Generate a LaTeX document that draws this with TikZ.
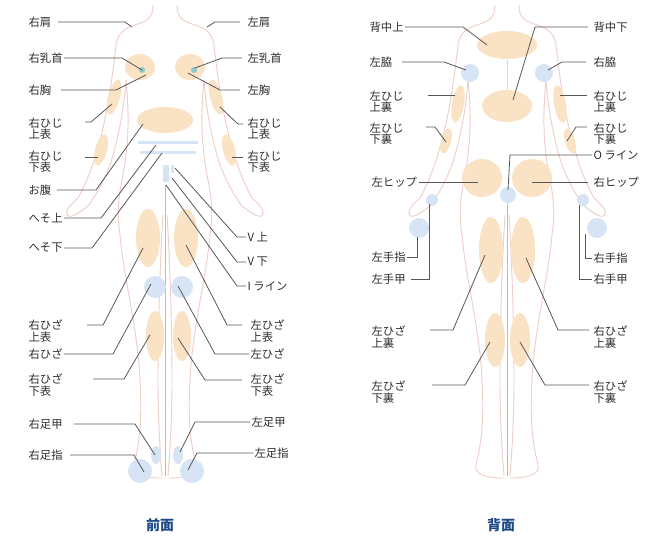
\documentclass[tikz,border=0pt]{standalone}
\usepackage{fontspec}
\setmainfont{Noto Sans CJK JP}
\usetikzlibrary{positioning}
\definecolor{skin}{RGB}{238,206,200}
\definecolor{zone}{RGB}{250,226,196}
\definecolor{spot}{RGB}{214,228,245}
\definecolor{nip}{RGB}{140,200,200}
\definecolor{lbl}{RGB}{45,45,45}
\definecolor{cap}{RGB}{30,75,135}
\tikzset{
  lab/.style={inner sep=1pt,text=lbl,font=\fontsize{8.5}{8.4}\selectfont,align=left},
  leader/.style={draw=lbl!80,line width=0.6pt},
  outline/.style={draw=skin,line width=0.7pt}
}
% half of the body outline, centre line at x=165
\newcommand\halfbody{%
  \draw[outline] (153,5) .. controls (153,15) and (150,20) .. (138,24) .. controls (125,28) and (118,32) .. (116,45)
     .. controls (112,80) and (108,110) .. (100,140) .. controls (92,170) and (85,185) .. (78,198)
     .. controls (70,205) and (64,212) .. (68,216) .. controls (72,218) and (80,212) .. (88,206) .. controls (90,204) and (91,202) .. (92,200);
  \draw[outline] (126,80) .. controls (124,110) and (118,140) .. (110,165) .. controls (104,180) and (98,192) .. (92,200);
  \draw[outline] (126,80) .. controls (130,120) and (128,150) .. (122,180) .. controls (118,200) and (117,215) .. (120,235)
     .. controls (124,280) and (138,330) .. (140,380) .. controls (142,420) and (140,440) .. (134,465) .. controls (132,475) and (145,478) .. (162,478);
  \draw[outline] (163,215) .. controls (160,260) and (158,330) .. (158,380) .. controls (158,420) and (160,450) .. (162,476);
}
\begin{document}
\begin{tikzpicture}[x=0.75pt,y=0.75pt,yscale=-1,xscale=1]
\useasboundingbox (0,0) rectangle (664,538);

%Shape: outlines front and back
\halfbody
\begin{scope}[shift={(330,0)},xscale=-1]\halfbody\end{scope}
\begin{scope}[shift={(342,0)}]\halfbody\end{scope}
\begin{scope}[shift={(672,0)},xscale=-1]\halfbody\end{scope}
\draw[draw=skin!80!red,line width=0.6pt] (165,185) -- (165,476);
\draw[draw=skin!80!red,line width=0.6pt] (507,200) -- (507,476);
\draw[draw=skin,line width=0.5pt] (507,60) -- (507,120);

%Shape: front zones
\fill[zone] (140,67) circle [x radius=15, y radius=13];
\fill[zone] (190,67) circle [x radius=15, y radius=13];
\fill[nip] (142,70) circle [radius=3];
\fill[nip] (194,70) circle [radius=3];
\fill[zone,rotate around={15:(114,97)}] (114,97) circle [x radius=6, y radius=18];
\fill[zone,rotate around={-15:(216,97)}] (216,97) circle [x radius=6, y radius=18];
\fill[zone,rotate around={15:(101,150)}] (101,150) circle [x radius=6, y radius=16];
\fill[zone,rotate around={-15:(229,150)}] (229,150) circle [x radius=6, y radius=16];
\fill[zone] (165,120) circle [x radius=28, y radius=13];
\fill[spot] (138,141) rectangle (198,144);
\fill[spot] (140,151) rectangle (196,154);
\fill[spot] (163,165) rectangle (169,182);
\fill[spot] (171,165) rectangle (174,173);
\fill[zone] (148,238) circle [x radius=12, y radius=29];
\fill[zone] (186,238) circle [x radius=12, y radius=29];
\fill[spot] (155,287) circle [radius=11];
\fill[spot] (182,287) circle [radius=11];
\fill[zone] (155,336) circle [x radius=9, y radius=25];
\fill[zone] (182,336) circle [x radius=9, y radius=25];
\fill[spot] (156,455) circle [x radius=5, y radius=9];
\fill[spot] (178,455) circle [x radius=5, y radius=9];
\fill[spot] (140,471) circle [radius=12];
\fill[spot] (192,471) circle [radius=12];

%Shape: back zones
\fill[zone] (507,45) circle [x radius=30, y radius=14];
\fill[spot] (470,73) circle [radius=9];
\fill[spot] (544,73) circle [radius=9];
\fill[zone,rotate around={10:(458,104)}] (458,104) circle [x radius=6, y radius=19];
\fill[zone,rotate around={-10:(560,104)}] (560,104) circle [x radius=6, y radius=19];
\fill[zone,rotate around={15:(446,141)}] (446,141) circle [x radius=5, y radius=13];
\fill[zone,rotate around={-15:(570,141)}] (570,141) circle [x radius=5, y radius=13];
\fill[zone] (507,106) circle [x radius=25, y radius=16];
\fill[zone] (482,178) circle [x radius=20, y radius=19];
\fill[zone] (532,178) circle [x radius=20, y radius=19];
\fill[spot] (508,195) circle [radius=8];
\fill[spot] (432,200) circle [radius=6];
\fill[spot] (583,200) circle [radius=6];
\fill[spot] (419,228) circle [radius=10];
\fill[spot] (597,228) circle [radius=10];
\fill[zone] (491,250) circle [x radius=12, y radius=33];
\fill[zone] (523,250) circle [x radius=12, y radius=33];
\fill[zone] (495,340) circle [x radius=10, y radius=27];
\fill[zone] (520,340) circle [x radius=10, y radius=27];

% Text Node: front, left column
\node[lab,anchor=west] (rkata) at (27,22) {右肩};
\node[lab,anchor=west] (rnip) at (27,58) {右乳首};
\node[lab,anchor=west] (rmune) at (27,90) {右胸};
\node[lab,anchor=west] (rhijiu) at (27,129) {右ひじ\\上表};
\node[lab,anchor=west] (rhijis) at (27,162) {右ひじ\\下表};
\node[lab,anchor=west] (onaka) at (27,190) {お腹};
\node[lab,anchor=west] (hesou) at (27,218) {へそ上};
\node[lab,anchor=west] (hesos) at (27,248) {へそ下};
\node[lab,anchor=west] (rhizau) at (27,331) {右ひざ\\上表};
\node[lab,anchor=west] (rhiza) at (27,354) {右ひざ};
\node[lab,anchor=west] (rhizas) at (27,385) {右ひざ\\下表};
\node[lab,anchor=west] (rkou) at (27,424) {右足甲};
\node[lab,anchor=west] (rashi) at (27,455) {右足指};
\draw[leader] (rkata.east) ++(5,0) -- (125,22) -- (132,27);
\draw[leader] (rnip.east) -- (122,58) -- (142,70);
\draw[leader] (rmune.east) ++(8,0) -- (116,90) -- (146,75);
\draw[leader] (85,122) -- (91,122) -- (112,104);
\draw[leader] (85,157) -- (98,157);
\draw[leader] (onaka.east) ++(4,0) -- (96,190) -- (143,124);
\draw[leader] (hesou.east) -- (101,218) -- (156,145);
\draw[leader] (hesos.east) -- (92,248) -- (162,153);
\draw[leader] (87,325) -- (103,325) -- (143,248);
\draw[leader] (rhiza.east) -- (113,354) -- (151,284);
\draw[leader] (93,379) -- (124,379) -- (150,335);
\draw[leader] (rkou.east) ++(10,0) -- (135,424) -- (155,455);
\draw[leader] (rashi.east) ++(6,0) -- (134,455) -- (144,472);

% Text Node: front, right column
\node[lab,anchor=west] (lkata) at (246,22) {左肩};
\node[lab,anchor=west] (lnip) at (246,58) {左乳首};
\node[lab,anchor=west] (lmune) at (246,90) {左胸};
\node[lab,anchor=west] (lhijiu) at (246,129) {右ひじ\\上表};
\node[lab,anchor=west] (lhijis) at (246,162) {右ひじ\\下表};
\node[lab,anchor=west] (vue) at (246,237) {V 上};
\node[lab,anchor=west] (vshita) at (246,262) {V 下};
\node[lab,anchor=west] (iline) at (246,286) {I ライン};
\node[lab,anchor=west] (lhizau) at (249,331) {左ひざ\\上表};
\node[lab,anchor=west] (lhiza) at (249,354) {左ひざ};
\node[lab,anchor=west] (lhizas) at (249,385) {左ひざ\\下表};
\node[lab,anchor=west] (lkou) at (250,422) {左足甲};
\node[lab,anchor=west] (lashi) at (253,453) {左足指};
\draw[leader] (lkata.west) ++(-6,0) -- (215,22) -- (207,27);
\draw[leader] (lnip.west) ++(-4,0) -- (222,58) -- (195,68);
\draw[leader] (lmune.west) ++(-6,0) -- (220,90) -- (188,73);
\draw[leader] (243,124) -- (238,124) -- (220,107);
\draw[leader] (243,157) -- (232,157);
\draw[leader] (vue.west) -- (237,237) -- (175,168);
\draw[leader] (vshita.west) -- (237,262) -- (172,178);
\draw[leader] (iline.west) -- (237,286) -- (166,185);
\draw[leader] (242,325) -- (227,325) -- (186,245);
\draw[leader] (lhiza.west) -- (215,354) -- (178,286);
\draw[leader] (242,380) -- (205,380) -- (178,338);
\draw[leader] (lkou.west) -- (195,422) -- (180,452);
\draw[leader] (lashi.west) -- (197,453) -- (188,470);

% Text Node: back, left column
\node[lab,anchor=west] (senu) at (368,27) {背中上};
\node[lab,anchor=west] (lwaki) at (368,62) {左脇};
\node[lab,anchor=west] (lhijiuu) at (368,102) {左ひじ\\上裏};
\node[lab,anchor=west] (lhijisu) at (368,134) {左ひじ\\下裏};
\node[lab,anchor=west] (lhip) at (370,182) {左ヒップ};
\node[lab,anchor=west] (lyubi) at (370,257) {左手指};
\node[lab,anchor=west] (lteko) at (370,279) {左手甲};
\node[lab,anchor=west] (lhizauu) at (370,337) {左ひざ\\上裏};
\node[lab,anchor=west] (lhizasu) at (370,392) {左ひざ\\下裏};
\draw[leader] (senu.east) -- (463,27) -- (487,45);
\draw[leader] (lwaki.east) ++(8,0) -- (444,62) -- (466,70);
\draw[leader] (428,95) -- (455,95);
\draw[leader] (426,127) -- (435,127) -- (446,142);
\draw[leader] (lhip.east) -- (478,182);
\draw[leader] (lyubi.east) -- (417,257) -- (417,237);
\draw[leader] (lteko.east) ++(4,0) -- (429,279) -- (429,204);
\draw[leader] (430,330) -- (453,330) -- (485,255);
\draw[leader] (432,385) -- (465,385) -- (490,342);

% Text Node: back, right column
\node[lab,anchor=west] (sens) at (592,27) {背中下};
\node[lab,anchor=west] (rwaki) at (592,62) {右脇};
\node[lab,anchor=west] (rhijiuu) at (592,102) {右ひじ\\上裏};
\node[lab,anchor=west] (rhijisu) at (592,134) {右ひじ\\下裏};
\node[lab,anchor=west] (oline) at (592,155) {O ライン};
\node[lab,anchor=west] (rhip) at (592,182) {右ヒップ};
\node[lab,anchor=west] (ryubi) at (592,258) {右手指};
\node[lab,anchor=west] (rteko) at (592,279) {右手甲};
\node[lab,anchor=west] (rhizauu) at (592,337) {右ひざ\\上裏};
\node[lab,anchor=west] (rhizasu) at (592,392) {右ひざ\\下裏};
\draw[leader] (sens.west) ++(-4,0) -- (535,27) -- (513,100);
\draw[leader] (rwaki.west) ++(-6,0) -- (562,62) -- (548,70);
\draw[leader] (587,95) -- (560,95);
\draw[leader] (587,127) -- (576,127) -- (567,141);
\draw[leader] (oline.west) -- (510,155) -- (508,190);
\draw[leader] (rhip.west) ++(-4,0) -- (532,182);
\draw[leader] (ryubi.west) -- (585,258) -- (585,234);
\draw[leader] (rteko.west) -- (579,279) -- (579,205);
\draw[leader] (589,330) -- (558,330) -- (526,258);
\draw[leader] (589,385) -- (545,385) -- (520,342);

% Text Node: captions
\node[text=cap,font=\fontsize{10.5}{12}\selectfont\bfseries] (front) at (160,525) {前面};
\node[text=cap,font=\fontsize{10.5}{12}\selectfont\bfseries] (back) at (501,525) {背面};
\end{tikzpicture}
\end{document}
